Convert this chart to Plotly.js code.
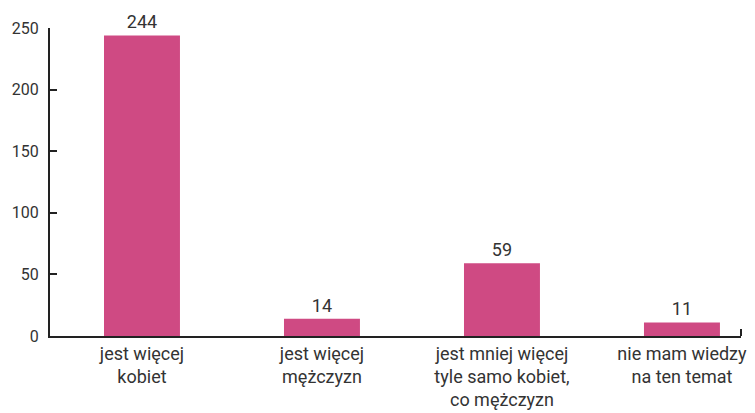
<!DOCTYPE html>
<html>
<head>
<meta charset="utf-8">
<script src="https://cdn.plot.ly/plotly-3.0.1.min.js"></script>
<style>html,body{margin:0;padding:0;background:#fff;}#chart{width:755px;height:413px;}</style>
</head>
<body>
<div id="chart"></div>
<script>
var categories = ["jest więcej<br>kobiet", "jest więcej<br>mężczyzn", "jest mniej więcej<br>tyle samo kobiet,<br>co mężczyzn", "nie mam wiedzy<br>na ten temat"];
var values = [244, 14, 59, 11];
var yTicks = [0, 50, 100, 150, 200, 250];

var trace = {
  type: "bar",
  x: categories,
  y: values,
  text: values.map(String),
  textposition: "outside",
  cliponaxis: false,
  textfont: {family: "Roboto, sans-serif", size: 18, color: "#333"},
  marker: {color: "#cf4a83"},
  width: 0.422,
  hoverinfo: "none"
};

var layout = {
  width: 755, height: 413,
  margin: {l: 50, r: 14, t: 28, b: 77},
  paper_bgcolor: "#fff", plot_bgcolor: "#fff",
  font: {family: "Roboto, sans-serif", color: "#333"},
  showlegend: false,
  xaxis: {
    type: "category",
    range: [-0.511, 3.328],
    showline: true, linecolor: "#222", linewidth: 2,
    ticks: "", showgrid: false, zeroline: false,
    tickfont: {size: 18, color: "#333"},
    fixedrange: true
  },
  yaxis: {
    range: [0, 250],
    tickvals: yTicks, ticktext: yTicks.map(String),
    showline: true, linecolor: "#222", linewidth: 2,
    ticks: "inside", ticklen: 7, tickwidth: 2, tickcolor: "#222",
    showgrid: false, zeroline: false,
    tickfont: {size: 16, color: "#333"},
    ticklabelstandoff: 6,
    fixedrange: true
  },
  shapes: [{
    type: "line", xref: "paper", yref: "paper",
    x0: 1, x1: 1, y0: 0, y1: 7,
    ysizemode: "pixel", yanchor: 0,
    line: {color: "#222", width: 2}
  }]
};

Plotly.newPlot("chart", [trace], layout, {displayModeBar: false, staticPlot: true});
</script>
</body>
</html>
